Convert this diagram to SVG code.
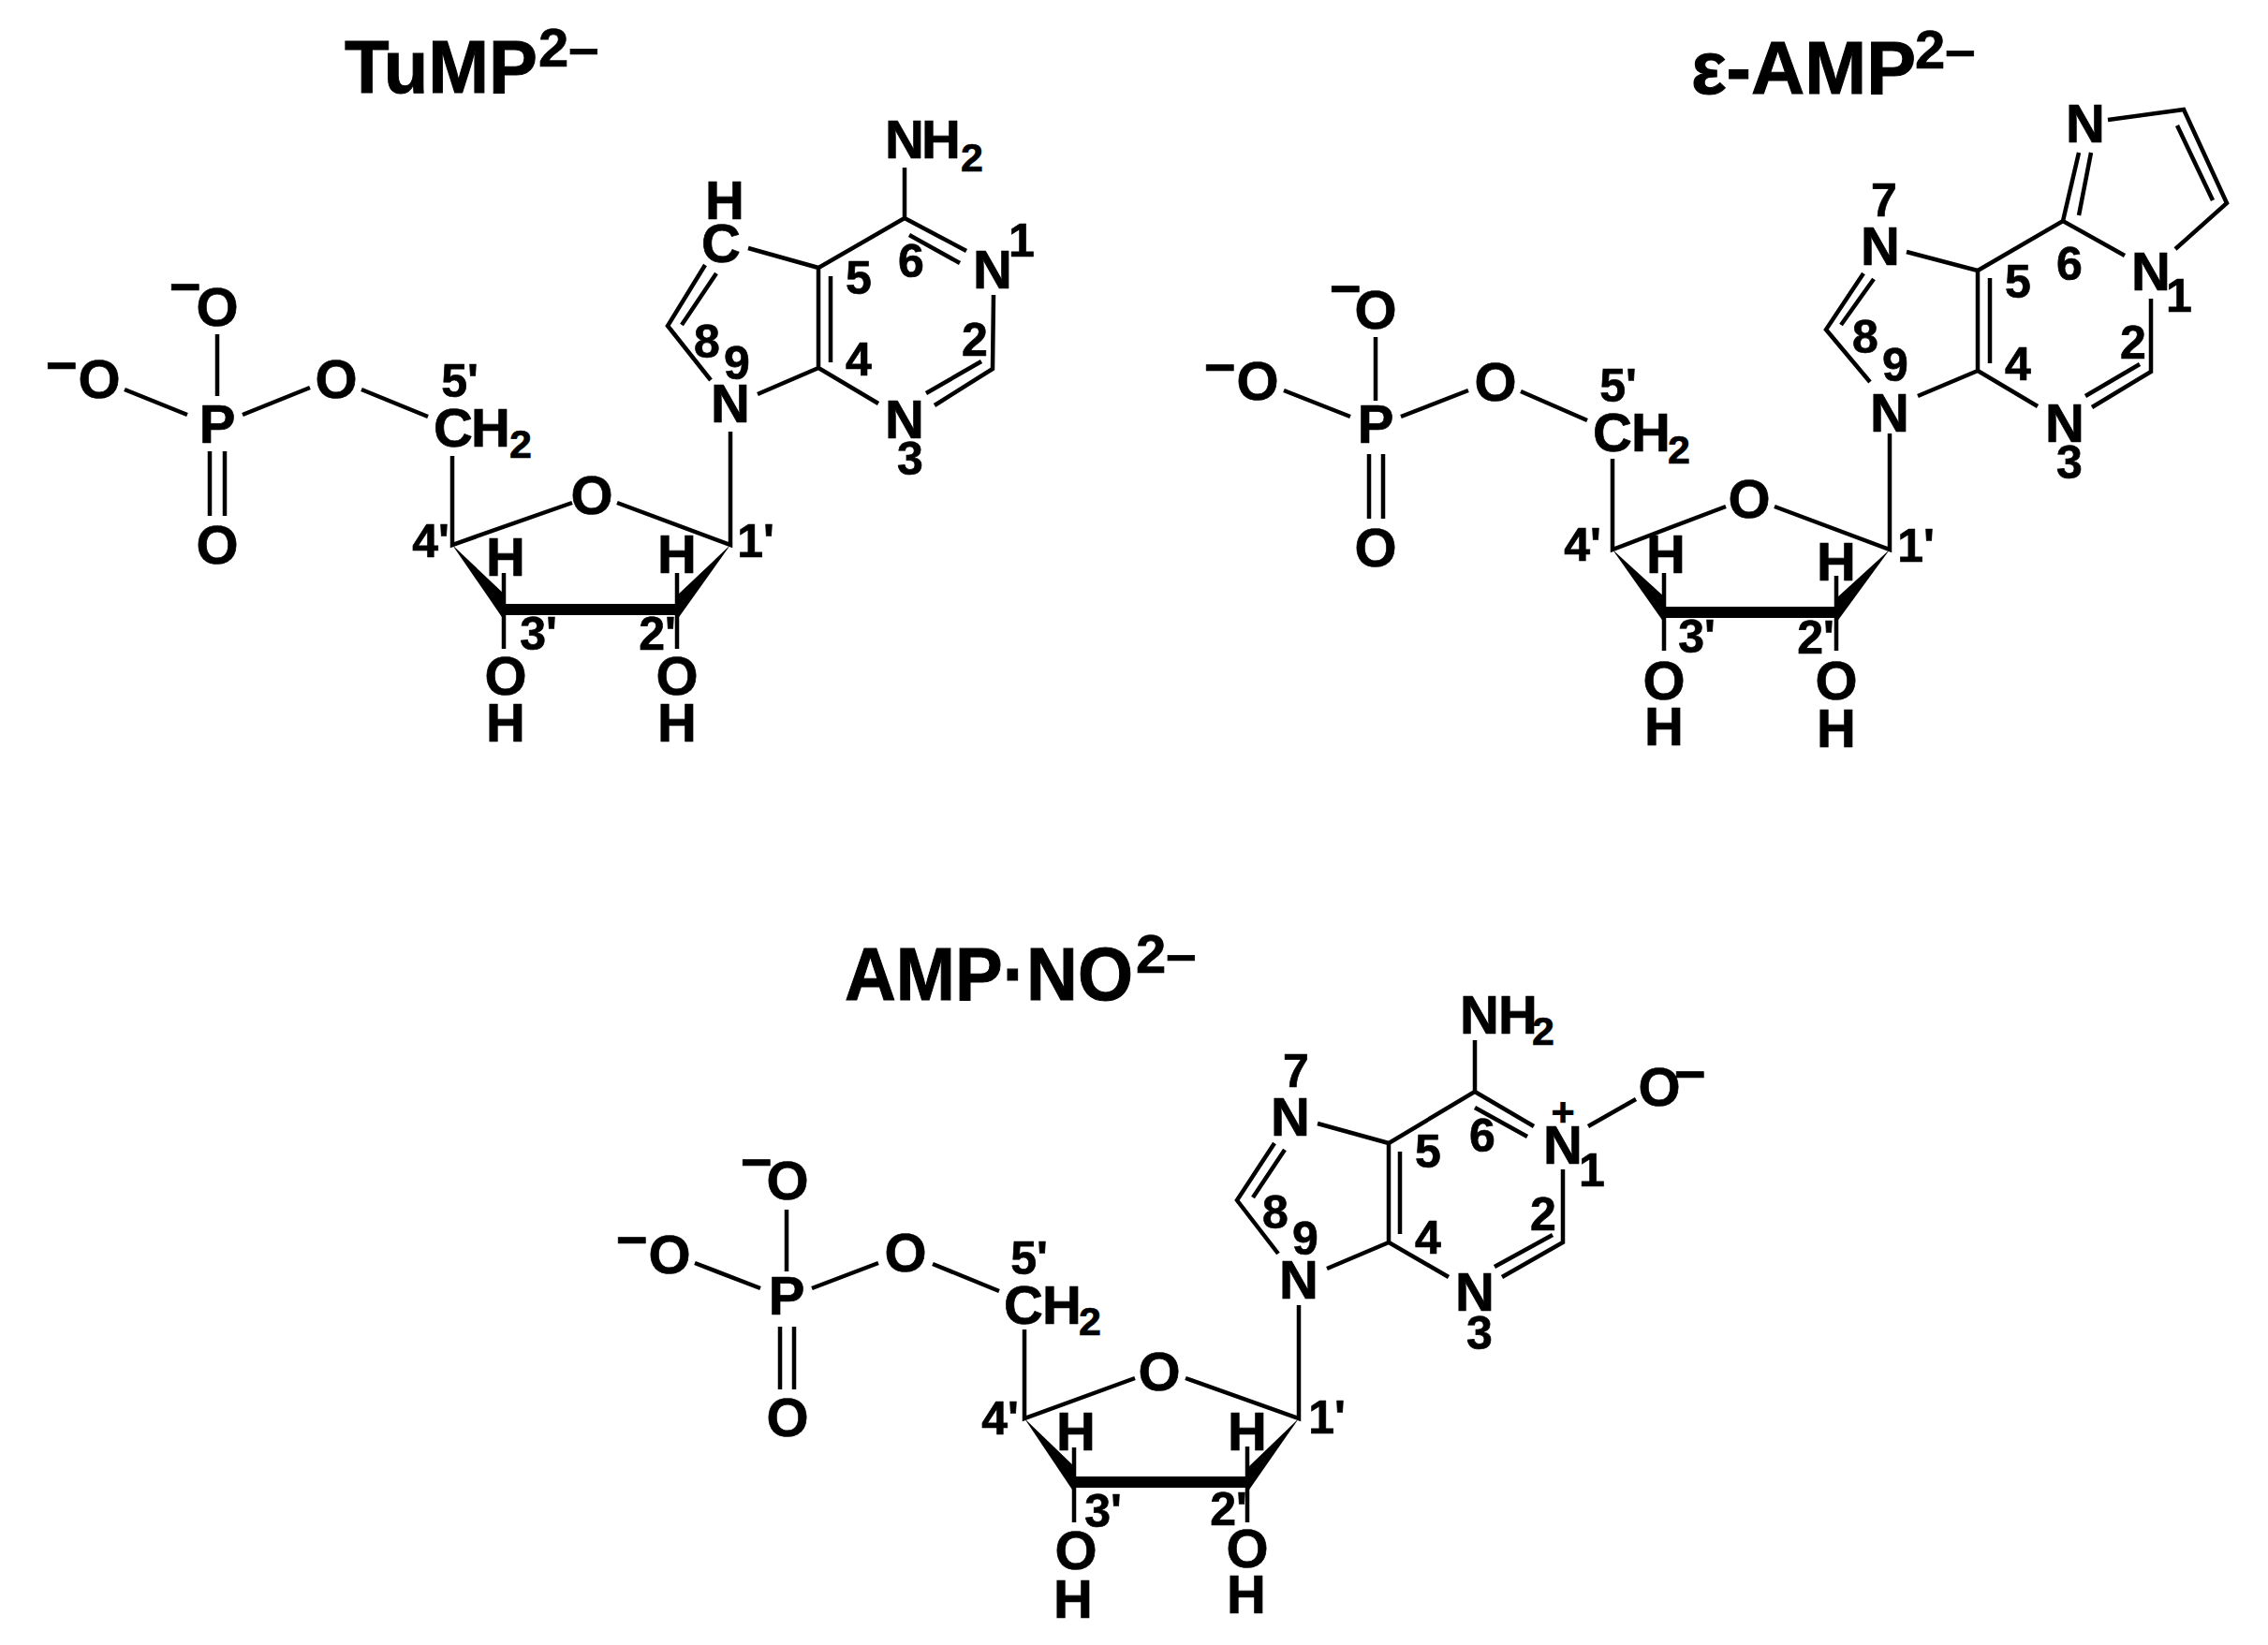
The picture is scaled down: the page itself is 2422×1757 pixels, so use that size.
<svg xmlns="http://www.w3.org/2000/svg" width="2422" height="1757" viewBox="0 0 2422 1757">
<style>
text{font-family:"Liberation Sans",Arial,sans-serif;font-weight:700;fill:#000;stroke:#000;stroke-width:.7;text-anchor:middle}
.a{font-size:58px}
.n{font-size:50px}
.s{font-size:43px}
.t{font-size:79px;text-anchor:start;stroke-width:1}
.u{font-size:58px;text-anchor:start}
path.b{fill:none;stroke:#000;stroke-width:4.5}
path.h{fill:none;stroke:#000;stroke-width:12;stroke-linecap:butt}
polygon{fill:#000}
</style>
<rect width="2422" height="1757" fill="#fff"/>
<g id="tump">
<text class="t" x="368" y="99" textLength="206" lengthAdjust="spacingAndGlyphs">TuMP</text><text class="u" x="575" y="71">2–</text>
<g id="tump-bonds">
<path class="b" d="M232 357V423M133 416L200 443M259 443L331 414M386 416L457 445M224 482V551M240 482V551"/>
<path class="b" d="M483 487V582L611 537M659 537L780 582V461M538 612V693M723 612V693"/>
<path class="b" d="M966 179V233L874 286V393L938 431M966 233L1032 268M971 251L1025 281M1061 315L1060 394L998 433M1048 386L989 420M887 295V387M874 286L799 265M753 283L713 348L759 406M765 292L728 347M809 421L874 393"/>
<path class="h" d="M538 651H723"/>
<polygon points="483,582 538,662 540,636"/><polygon points="780,582 723,662 723,636"/>
</g>
<g id="tump-atoms">
<text class="a" x="232" y="473">P</text>
<text class="a" x="232" y="348">O</text><text class="a" x="198" y="326">−</text>
<text class="a" x="106" y="425">O</text><text class="a" x="66" y="410">−</text>
<text class="a" x="359" y="425">O</text><text class="a" x="232" y="602">O</text>
<text class="a" x="484" y="477">C</text><text class="a" x="524" y="477">H</text><text class="s" x="556" y="489">2</text>
<text class="a" x="632" y="549">O</text>
<text class="a" x="540" y="615">H</text><text class="a" x="723" y="612">H</text>
<text class="a" x="540" y="742">O</text><text class="a" x="540" y="792">H</text>
<text class="a" x="723" y="742">O</text><text class="a" x="723" y="792">H</text>
<text class="a" x="780" y="451">N</text><text class="a" x="966" y="468">N</text><text class="a" x="1060" y="308">N</text>
<text class="a" x="966" y="169">N</text><text class="a" x="1005" y="169">H</text><text class="s" x="1038" y="183">2</text>
<text class="a" x="770" y="280">C</text><text class="a" x="774" y="234">H</text>
</g>
<g id="tump-numbers">
<text class="n" x="491" y="424">5'</text><text class="n" x="460" y="595">4'</text><text class="n" x="807" y="595">1'</text><text class="n" x="575" y="694">3'</text><text class="n" x="702" y="694">2'</text>
<text class="n" x="973" y="296">6</text><text class="n" x="917" y="314">5</text><text class="n" x="917" y="401">4</text><text class="n" x="1041" y="380">2</text><text class="n" x="1091" y="274">1</text><text class="n" x="755" y="382">8</text><text class="n" x="787" y="405">9</text><text class="n" x="972" y="507">3</text>
</g>
</g>
<g id="eamp">
<text class="t" x="1806" y="100" textLength="240" lengthAdjust="spacingAndGlyphs">ε-AMP</text><text class="u" x="2045" y="73">2–</text>
<g id="eamp-bonds">
<path class="b" d="M1469 360V428M1371 417L1442 445M1496 445L1568 417M1624 418L1695 449M1462 485V554M1477 485V554"/>
<path class="b" d="M1722 490V587L1843 541M1895 541L2018 587V463M1777 612V695M1961 615V695"/>
<path class="b" d="M2036 269L2112 289V396L2176 434M2112 289L2203 236L2269 273M2297 319V397L2234 435M2285 389L2227 423M2125 297V388M1990 292L1950 352L1997 408M2001 298L1966 347M2048 423L2112 396M2203 236L2220 163M2220 230L2233 163M2251 128L2332 117L2378 217L2323 266M2325 134L2363 214"/>
<path class="h" d="M1777 654H1961"/>
<polygon points="1722,587 1777,665 1779,639"/><polygon points="2018,587 1961,665 1961,639"/>
</g>
<g id="eamp-atoms">
<text class="a" x="1469" y="473">P</text>
<text class="a" x="1469" y="351">O</text><text class="a" x="1437" y="328">−</text>
<text class="a" x="1343" y="427">O</text><text class="a" x="1303" y="412">−</text>
<text class="a" x="1597" y="428">O</text><text class="a" x="1469" y="605">O</text>
<text class="a" x="1722" y="482">C</text><text class="a" x="1763" y="482">H</text><text class="s" x="1793" y="495">2</text>
<text class="a" x="1868" y="553">O</text>
<text class="a" x="1779" y="612">H</text><text class="a" x="1961" y="620">H</text>
<text class="a" x="1777" y="747">O</text><text class="a" x="1777" y="796">H</text>
<text class="a" x="1961" y="747">O</text><text class="a" x="1961" y="798">H</text>
<text class="a" x="2018" y="461">N</text><text class="a" x="2205" y="472">N</text><text class="a" x="2297" y="310">N</text><text class="a" x="2008" y="283">N</text><text class="a" x="2227" y="152">N</text>
</g>
<g id="eamp-numbers">
<text class="n" x="1728" y="429">5'</text><text class="n" x="1690" y="599">4'</text><text class="n" x="2046" y="600">1'</text><text class="n" x="1812" y="697">3'</text><text class="n" x="1939" y="698">2'</text>
<text class="n" x="2210" y="299">6</text><text class="n" x="2155" y="318">5</text><text class="n" x="2155" y="406">4</text><text class="n" x="2278" y="383">2</text><text class="n" x="2327" y="333">1</text><text class="n" x="1992" y="377">8</text><text class="n" x="2024" y="407">9</text><text class="n" x="2210" y="511">3</text><text class="n" x="2012" y="231">7</text>
</g>
</g>
<g id="ampno">
<text class="t" x="902" y="1068" textLength="308" lengthAdjust="spacingAndGlyphs">AMP·NO</text><text class="u" x="1213" y="1039">2–</text>
<g id="ampno-bonds">
<path class="b" d="M840 1292V1358M742 1349L812 1376M867 1376L938 1349M996 1350L1067 1379M833 1417V1484M848 1417V1484"/>
<path class="b" d="M1094 1420V1515L1212 1472M1266 1472L1387 1515V1394M1147 1546V1626M1332 1545V1626"/>
<path class="b" d="M1575 1111V1166L1483 1221V1327L1547 1364M1575 1166L1638 1203M1575 1183L1631 1214M1669 1249V1327L1604 1364M1658 1319L1596 1353M1495 1230V1318M1407 1200L1483 1221M1361 1221L1321 1282L1365 1339M1372 1228L1338 1279M1417 1355L1483 1327M1696 1203L1747 1174"/>
<path class="h" d="M1147 1583H1332"/>
<polygon points="1094,1515 1147,1594 1149,1568"/><polygon points="1387,1515 1332,1594 1332,1568"/>
</g>
<g id="ampno-atoms">
<text class="a" x="840" y="1404">P</text>
<text class="a" x="841" y="1281">O</text><text class="a" x="808" y="1261">−</text>
<text class="a" x="715" y="1360">O</text><text class="a" x="675" y="1344">−</text>
<text class="a" x="967" y="1358">O</text><text class="a" x="841" y="1534">O</text>
<text class="a" x="1093" y="1414">C</text><text class="a" x="1134" y="1414">H</text><text class="s" x="1164" y="1426">2</text>
<text class="a" x="1238" y="1485">O</text>
<text class="a" x="1149" y="1549">H</text><text class="a" x="1332" y="1549">H</text>
<text class="a" x="1149" y="1676">O</text><text class="a" x="1146" y="1728">H</text>
<text class="a" x="1332" y="1674">O</text><text class="a" x="1331" y="1723">H</text>
<text class="a" x="1387" y="1387">N</text><text class="a" x="1575" y="1400">N</text><text class="a" x="1669" y="1243">N</text><text class="a" x="1378" y="1213">N</text>
<text class="a" x="1580" y="1104">N</text><text class="a" x="1621" y="1104">H</text><text class="s" x="1648" y="1116">2</text>
<text class="s" x="1669" y="1202">+</text>
<text class="a" x="1772" y="1181">O</text><text class="a" x="1805" y="1167">−</text>
</g>
<g id="ampno-numbers">
<text class="n" x="1099" y="1361">5'</text><text class="n" x="1068" y="1532">4'</text><text class="n" x="1417" y="1531">1'</text><text class="n" x="1178" y="1631">3'</text><text class="n" x="1312" y="1629">2'</text>
<text class="n" x="1583" y="1230">6</text><text class="n" x="1525" y="1247">5</text><text class="n" x="1525" y="1339">4</text><text class="n" x="1648" y="1314">2</text><text class="n" x="1700" y="1267">1</text><text class="n" x="1362" y="1312">8</text><text class="n" x="1394" y="1340">9</text><text class="n" x="1580" y="1441">3</text><text class="n" x="1384" y="1161">7</text>
</g>
</g>
</svg>
